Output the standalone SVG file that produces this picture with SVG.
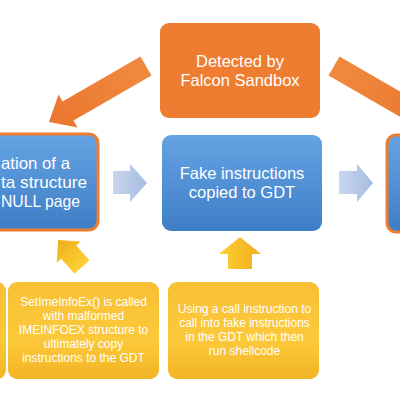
<svg xmlns="http://www.w3.org/2000/svg" width="400" height="400" viewBox="0 0 400 400">
<defs>
<linearGradient id="gBlue" x1="0" y1="0" x2="0" y2="1">
<stop offset="0" stop-color="#65a3e3"/><stop offset="1" stop-color="#3e7ec6"/>
</linearGradient>
<linearGradient id="gYel" x1="0" y1="0" x2="0" y2="1">
<stop offset="0" stop-color="#f8c035"/><stop offset="0.6" stop-color="#fcc93a"/><stop offset="1" stop-color="#f2b424"/>
</linearGradient>
<linearGradient id="gYelArrow" x1="0" y1="0" x2="1" y2="0">
<stop offset="0" stop-color="#fdd035"/><stop offset="1" stop-color="#f0ae1c"/>
</linearGradient>
<linearGradient id="gOrArrow" x1="0" y1="0" x2="1" y2="0">
<stop offset="0" stop-color="#f08a3e"/><stop offset="1" stop-color="#eb7630"/>
</linearGradient>
<linearGradient id="gBlueArrow" x1="0" y1="0" x2="1" y2="0">
<stop offset="0" stop-color="#c9d6ee"/><stop offset="1" stop-color="#a6bce2"/>
</linearGradient>
</defs>
<style>
.blue{fill:url(#gBlue)}
.outl{stroke:#ed7d31;stroke-width:3}
.orange{fill:#ee7d32}
.yel{fill:url(#gYel)}
.t{font-family:"Liberation Sans",Arial,sans-serif;fill:#ffffff}
.big{font-size:16.5px}
.small{font-size:12px}
</style>
<rect width="400" height="400" fill="#ffffff"/>
<g id="connectors">
<polygon points="0,-11 90,-11 90,-19 112,0 90,19 90,11 0,11" fill="url(#gOrArrow)" transform="translate(146,66) rotate(150)"/>
<polygon points="0,-11 90,-11 90,-19 112,0 90,19 90,11 0,11" fill="url(#gOrArrow)" transform="translate(334,66) rotate(30)"/>
<polygon points="113,171 130,171 130,164 147,183 130,202 130,194 113,194" fill="url(#gBlueArrow)"/>
<polygon points="339,171 357,171 357,164 373,183 357,202 357,194 339,194" fill="url(#gBlueArrow)"/>
<polygon points="0,-10 20,-10 20,-16 36,0 20,16 20,10 0,10" fill="url(#gYelArrow)" transform="translate(82,267) rotate(-131.6)"/>
<polygon points="228,269 228,254 219,254 240,237 261,254 252,254 252,269" fill="url(#gYelArrow)"/>
</g>
<g id="detected">
<rect x="160" y="23" width="160" height="95" rx="9" class="orange"/>
<text class="t big" x="240" y="67" text-anchor="middle">Detected by</text>
<text class="t big" x="240" y="86" text-anchor="middle">Falcon Sandbox</text>
</g>
<g id="allocation">
<rect x="-62" y="134" width="160" height="96" rx="9" class="blue outl"/>
<text class="t big" x="1" y="169" textLength="69" lengthAdjust="spacingAndGlyphs">ation of a</text>
<text class="t big" x="1" y="188" textLength="86" lengthAdjust="spacingAndGlyphs">ta structure</text>
<text class="t big" x="1" y="207" textLength="79" lengthAdjust="spacingAndGlyphs">NULL page</text>
</g>
<g id="fake">
<rect x="162" y="135" width="160" height="96" rx="9" class="blue"/>
<text class="t big" x="242" y="179" text-anchor="middle">Fake instructions</text>
<text class="t big" x="242" y="198" text-anchor="middle">copied to GDT</text>
</g>
<g id="right-box">
<rect x="387" y="135" width="160" height="97" rx="9" class="blue outl"/>
</g>
<g id="yellow-left">
<rect x="-150" y="282" width="156" height="97" rx="9" class="yel"/>
</g>
<g id="setime">
<rect x="8" y="282" width="151" height="97" rx="9" class="yel"/>
<text class="t small" x="83.5" y="306" text-anchor="middle">SetImeInfoEx() is called</text>
<text class="t small" x="83.5" y="320" text-anchor="middle">with malformed</text>
<text class="t small" x="83.5" y="334" text-anchor="middle">IMEINFOEX structure to</text>
<text class="t small" x="83.5" y="348" text-anchor="middle">ultimately copy</text>
<text class="t small" x="83.5" y="362" text-anchor="middle">instructions to the GDT</text>
</g>
<g id="callinto">
<rect x="168" y="282" width="151" height="97" rx="9" class="yel"/>
<text class="t small" x="244.5" y="313" text-anchor="middle">Using a call instruction to</text>
<text class="t small" x="244.5" y="327" text-anchor="middle">call into fake instructions</text>
<text class="t small" x="244.5" y="341" text-anchor="middle">in the GDT which then</text>
<text class="t small" x="244.5" y="355" text-anchor="middle">run shellcode</text>
</g>
</svg>
